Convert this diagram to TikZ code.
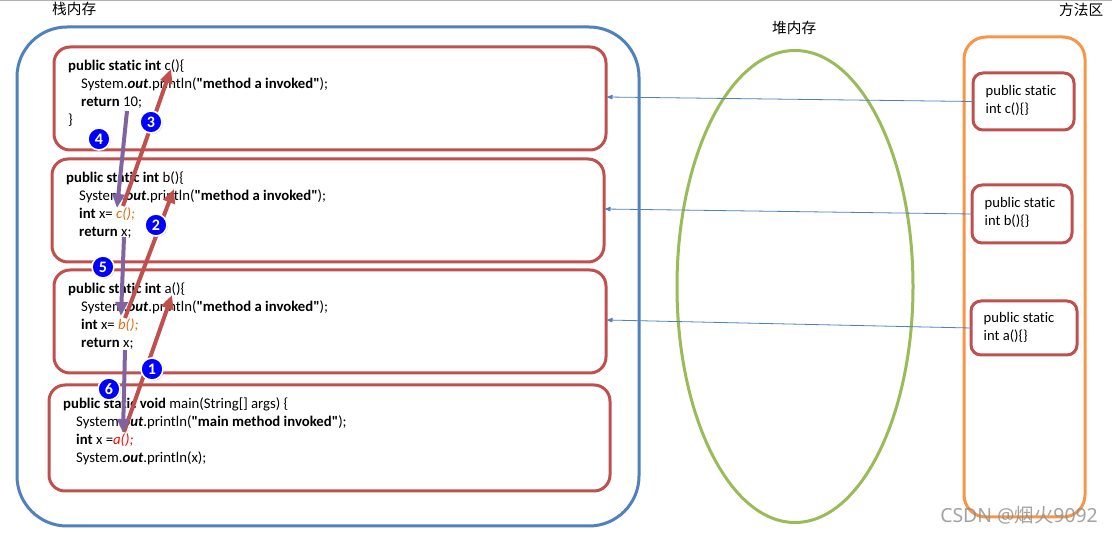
\documentclass[tikz,border=0pt]{standalone}
\usepackage{fontspec}
\setmainfont{Carlito}[Ligatures=NoCommon]
\newfontfamily\cjkf{Noto Sans CJK SC}
\newfontfamily\wmf{Noto Sans}
\usetikzlibrary{arrows.meta,shapes.geometric,shadows}
\definecolor{fr}{HTML}{C0504D}
\definecolor{stk}{HTML}{4F81BD}
\definecolor{hp}{HTML}{9BBB59}
\definecolor{mt}{HTML}{F79646}
\definecolor{pur}{HTML}{8064A2}
\definecolor{org}{HTML}{E36C09}
\newcommand{\pout}{System.\textbf{\textit{out}}.println}
\newcommand{\ind}{\hspace*{13pt}}
\newcommand{\qs}[1]{\textbf{\textquotedbl #1\textquotedbl}}
\tikzset{
 frame/.style={draw=fr,line width=3pt,rounded corners=16pt,inner sep=0pt,outer sep=0pt,fill=white},
 small/.style={draw=fr,line width=3pt,rounded corners=10pt,inner sep=0pt,outer sep=0pt,fill=white},
 region/.style={line width=3pt,inner sep=0pt,outer sep=0pt},
 code/.style={anchor=north west,align=left,inner sep=0pt,font=\fontsize{14.75}{18}\selectfont,text=black},
 small code/.style={code,font=\fontsize{14.6}{18}\selectfont},
 title/.style={inner sep=0pt,font=\cjkf\fontsize{14.7}{16}\selectfont},
 call/.style={draw=fr,line width=4pt,-{Triangle[length=14pt,width=12pt]}},
 ret/.style={draw=pur,line width=4pt,-{Triangle[length=14pt,width=12pt]}},
 link/.style={draw=stk,line width=0.8pt,-{Triangle[length=6pt,width=4.5pt]}},
 badge/.style={circle,draw=white,line width=1.6pt,fill=blue,text=white,minimum size=22pt,inner sep=0pt,
   font=\bfseries\fontsize{16}{16}\selectfont,drop shadow={shadow xshift=1pt,shadow yshift=-1pt,opacity=.35}},
}
\begin{document}
\begin{tikzpicture}[x=1pt,y=-1pt]
\useasboundingbox[fill=white] (0,0) rectangle (1112,534);
\fill[black!30] (0,0) rectangle (1112,1);
% regions
\node[region,draw=stk,rounded corners=50pt,minimum width=622pt,minimum height=499pt] (stack) at (328,276.5) {};
\node[region,draw=hp,ellipse,minimum width=236pt,minimum height=472pt] (heap) at (795,286.5) {};
\node[region,draw=mt,rounded corners=22pt,minimum width=121pt,minimum height=480pt] (method) at (1024.5,277) {};
% titles
\node[title,anchor=west] (t1) at (52,8.5) {栈内存};
\node[title,anchor=west] (t2) at (772,27.5) {堆内存};
\node[title,anchor=west] (t3) at (1059,9.5) {方法区};
% frames
\node[frame,minimum width=552pt,minimum height=103pt] (fc) at (330,98.5) {};
\node[frame,minimum width=552pt,minimum height=103pt] (fb) at (328,210.5) {};
\node[frame,minimum width=552pt,minimum height=103pt] (fa) at (330,321.5) {};
\node[frame,minimum width=561pt,minimum height=106pt] (fm) at (329.5,438) {};
% code
\node[code] (cc) at (68,60) {\textbf{public static int} c()\{\\
\ind \pout(\qs{method a invoked});\\
\ind\textbf{return} 10;\\
\}};
\node[code] (cb) at (66,171.5) {\textbf{public static int} b()\{\\
\ind \pout(\qs{method a invoked});\\
\ind\textbf{int} x= \textcolor{org}{\textit{c();}}\\
\ind\textbf{return} x;};
\node[code] (ca) at (68,283) {\textbf{public static int} a()\{\\
\ind \pout(\qs{method a invoked});\\
\ind\textbf{int} x= \textcolor{org}{\textit{b();}}\\
\ind\textbf{return} x;};
\node[code] (cm) at (63,398) {\textbf{public static void} main(String[] args) \{\\
\ind \pout(\qs{main method invoked});\\
\ind\textbf{int} x =\textcolor{red}{\textit{a();}}\\
\ind \pout(x);};
% method area boxes
\node[small,minimum width=101pt,minimum height=57pt] (mc) at (1023.5,101.5) {};
\node[small,minimum width=100pt,minimum height=58pt] (mb) at (1022,214) {};
\node[small,minimum width=106pt,minimum height=54pt] (ma) at (1024,328) {};
\node[small code,anchor=north west] (tc) at (985.5,85) {public static\\int c()\{\}};
\node[small code,anchor=north west] (tb) at (984.5,197) {public static\\int b()\{\}};
\node[small code,anchor=north west] (ta) at (983.5,312.5) {public static\\int a()\{\}};
% anchors of the arrows
\coordinate (a1s) at (124,432); \coordinate (a1e) at (172,295);
\coordinate (a2s) at (125,318); \coordinate (a2e) at (174,189);
\coordinate (a3s) at (123,206); \coordinate (a3e) at (171,69);
\coordinate (r4s) at (127,111); \coordinate (r4e) at (117,208);
\coordinate (r5s) at (124,237); \coordinate (r5e) at (121,316);
\coordinate (r6s) at (125,350); \coordinate (r6e) at (123,433);
\coordinate (lc) at (606.5,97); \coordinate (lcs) at (mc.west);
\coordinate (lb) at (604.5,209); \coordinate (lbs) at (mb.west);
\coordinate (la) at (606.5,320); \coordinate (las) at (ma.west);
% links
\draw[link] (lcs) -- (lc);
\draw[link] (lbs) -- (lb);
\draw[link] (las) -- (la);
% call / return arrows
\draw[call] (a1s) -- (a1e);
\draw[call] (a2s) -- (a2e);
\draw[call] (a3s) -- (a3e);
\draw[ret] (r4s) -- (r4e);
\draw[ret] (r5s) -- (r5e);
\draw[ret] (r6s) -- (r6e);
% badges
\node[badge] (b1) at (152,369) {1};
\node[badge] (b2) at (156,225) {2};
\node[badge] (b3) at (151,122) {3};
\node[badge] (b4) at (99,139) {4};
\node[badge] (b5) at (103,267) {5};
\node[badge] (b6) at (109,389) {6};
% watermark
\node[anchor=east,inner sep=0pt,text=black!45,opacity=.8,font=\wmf\fontsize{19.4}{20}\selectfont] (wm) at (1098,515) {CSDN @{\cjkf 烟火}9092};
\end{tikzpicture}
\end{document}
